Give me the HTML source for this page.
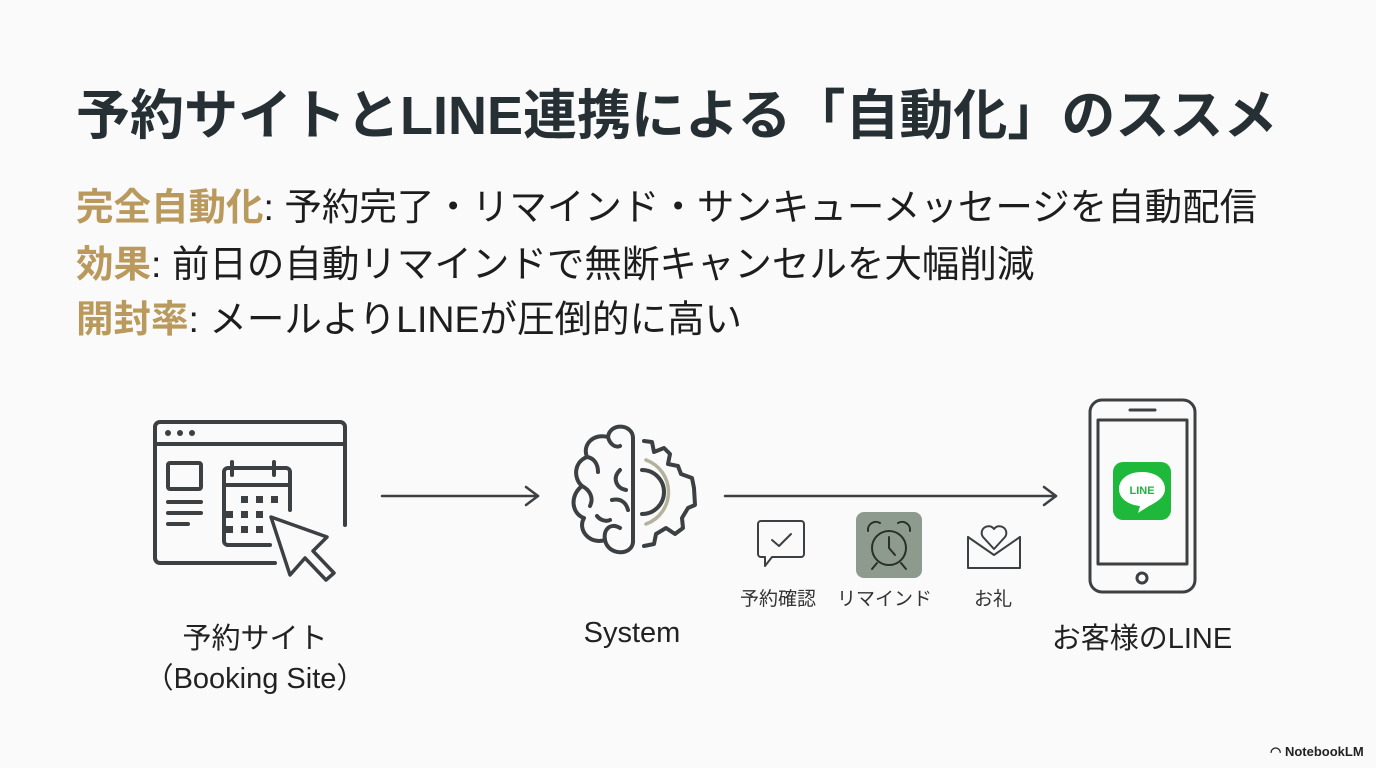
<!DOCTYPE html>
<html><head><meta charset="utf-8"><style>
html,body{margin:0;padding:0;background:#fafafa;}
body{width:1376px;height:768px;position:relative;overflow:hidden;font-family:"Liberation Sans","Noto Sans CJK JP",sans-serif;color:#222;}
.t{position:absolute;white-space:nowrap;}
.g{color:#b99a5c;font-weight:bold;}
</style></head><body>
<div class="t" style="left:76px;top:71px;font-size:54px;font-weight:bold;color:#263034;">予約サイトとLINE連携による「自動化」のススメ</div>
<div class="t" style="left:76px;top:176px;font-size:37.5px;color:#1d1d1d;"><span class="g">完全自動化</span>: 予約完了・リマインド・サンキューメッセージを自動配信</div>
<div class="t" style="left:76px;top:233px;font-size:37.5px;color:#1d1d1d;"><span class="g">効果</span>: 前日の自動リマインドで無断キャンセルを大幅削減</div>
<div class="t" style="left:76px;top:288px;font-size:37.5px;color:#1d1d1d;"><span class="g">開封率</span>: メールよりLINEが圧倒的に高い</div>

<svg width="1376" height="768" style="position:absolute;left:0;top:0" fill="none" stroke="#3c4043" stroke-width="4" stroke-linecap="round" stroke-linejoin="round">
 <path d="M275 563 H160 a5 5 0 0 1 -5 -5 V427 a5 5 0 0 1 5 -5 H340 a5 5 0 0 1 5 5 V525"/>
 <line x1="155" y1="444" x2="345" y2="444"/>
 <circle cx="168" cy="433" r="3" fill="#3c4043" stroke="none"/><circle cx="180" cy="433" r="3" fill="#3c4043" stroke="none"/><circle cx="192" cy="433" r="3" fill="#3c4043" stroke="none"/>
 <rect x="168" y="463" width="33" height="26" rx="2"/>
 <line x1="168" y1="502" x2="201" y2="502"/><line x1="168" y1="513" x2="201" y2="513"/><line x1="168" y1="524" x2="188" y2="524"/>
 <path d="M270 545 H228 a4 4 0 0 1 -4 -4 V472 a4 4 0 0 1 4 -4 H286 a4 4 0 0 1 4 4 V510"/>
 <line x1="224" y1="485" x2="290" y2="485"/>
 <line x1="232" y1="462" x2="232" y2="475"/><line x1="274" y1="462" x2="274" y2="475"/>
 <g fill="#3c4043" stroke="none">
  <rect x="241" y="496" width="7" height="7"/><rect x="256" y="496" width="7" height="7"/><rect x="271" y="496" width="7" height="7"/>
  <rect x="226" y="511" width="7" height="7"/><rect x="241" y="511" width="7" height="7"/><rect x="256" y="511" width="7" height="7"/>
  <rect x="226" y="526" width="7" height="7"/><rect x="241" y="526" width="7" height="7"/><rect x="256" y="526" width="7" height="7"/>
 </g>
 <path d="M271 517 L327 537 L313 551 L334 573 L326 580 L305 558 L290 575 Z" stroke-width="3.5" fill="#fafafa"/>
 <line x1="382" y1="496" x2="538" y2="496" stroke-width="2.5"/>
 <path d="M526 487 L538 496 L526 505" stroke-width="2.5"/>
 <path d="M633 438 C633 424 610 422 608 437 C593 433 582 445 587 457 C574 462 573 478 582 486 C569 496 572 514 584 518 C577 530 590 545 605 540 C608 556 632 556 633 542 Z"/>
 <line x1="633" y1="438" x2="633" y2="542"/>
 <path d="M608 437 C610 445 616 448 620 446"/>
 <path d="M587 457 C594 458 598 464 598 472"/>
 <path d="M620 470 C612 478 616 488 626 490"/>
 <path d="M582 486 C590 490 594 498 590 506"/>
 <path d="M605 540 C603 530 610 522 620 528"/>
 <path d="M612 500 C620 498 626 502 628 510"/>
 <path d="M597 516 C600 520 606 522 610 520"/>
 <path d="M644 441 L652 442 L654 452 L664 448 L670 454 L668 464 L678 466 L681 474 L692 478 L694 488 L695 505 L688 508 L682 518 L683 528 L675 534 L666 528 L656 534 L654 544 L644 546"/>
 <path d="M642 470 A22 22 0 0 1 642 514"/>
 <path d="M646 460 A34 34 0 0 1 646 524" stroke="#b4b29c" stroke-width="3.5"/>
 <line x1="725" y1="496" x2="1056" y2="496" stroke-width="2.5"/>
 <path d="M1044 487 L1056 496 L1044 505" stroke-width="2.5"/>
 <path d="M761 521 h40 a3 3 0 0 1 3 3 v30 a3 3 0 0 1 -3 3 h-29 l-7 9 v-9 h-4 a3 3 0 0 1 -3 -3 v-30 a3 3 0 0 1 3 -3 z" stroke-width="2"/>
 <path d="M772 540 l7 6 l12 -12" stroke-width="2"/>
 <rect x="856" y="512" width="66" height="66" rx="8" fill="#8d9b8e" stroke="none"/>
 <g stroke="#2b2f2c" stroke-width="2">
  <circle cx="889" cy="548" r="17"/>
  <path d="M889 537 v11 l6 7"/>
  <path d="M868 531 a8 8 0 0 1 12 -8"/><path d="M898 523 a8 8 0 0 1 12 8"/>
  <path d="M877 563 l-5 6"/><path d="M901 563 l5 6"/>
 </g>
 <path d="M968 537 v31 h52 v-31" stroke-width="2"/>
 <path d="M968 537 l26 18 l26 -18" stroke-width="2"/>
 <path d="M994 549 l-11 -12 a6 6 0 0 1 11 -8 a6 6 0 0 1 11 8 z" stroke-width="2" fill="#fafafa"/>
 <rect x="1090" y="400" width="105" height="192" rx="12" stroke-width="3"/>
 <rect x="1098" y="420" width="89" height="144" stroke-width="3"/>
 <line x1="1130" y1="410" x2="1155" y2="410" stroke-width="3"/>
 <circle cx="1142" cy="578" r="5" stroke-width="3"/>
 <rect x="1113" y="462" width="58" height="58" rx="10" fill="#1eb83a" stroke="none"/>
 <path d="M1142 472 c-15 0 -23 8 -23 17 c0 10 10 16 21 17 l-2 7 l11 -7 c8 -4 16 -9 16 -17 c0 -9 -8 -17 -23 -17 z" fill="#fff" stroke="none"/>
 <text x="1142" y="494" font-size="11" font-weight="bold" fill="#1eb83a" stroke="none" text-anchor="middle" font-family="Liberation Sans, sans-serif">LINE</text>
</svg>

<div class="t" style="left:740px;top:584px;font-size:19px;color:#333;">予約確認</div>
<div class="t" style="left:837px;top:584px;font-size:19px;color:#333;">リマインド</div>
<div class="t" style="left:974px;top:584px;font-size:19px;color:#333;">お礼</div>
<div class="t" style="left:165px;top:615px;width:180px;text-align:center;font-size:29px;color:#222;">予約サイト</div>
<div class="t" style="left:130px;top:655px;width:250px;text-align:center;font-size:29px;color:#222;">（Booking Site）</div>
<div class="t" style="left:552px;top:617px;width:160px;text-align:center;font-size:29px;color:#222;">System</div>
<div class="t" style="left:1032px;top:615px;width:220px;text-align:center;font-size:29px;color:#222;">お客様のLINE</div>
<div class="t" style="left:1270px;top:744px;font-size:13px;font-weight:bold;color:#222;">◠ NotebookLM</div>
</body></html>
